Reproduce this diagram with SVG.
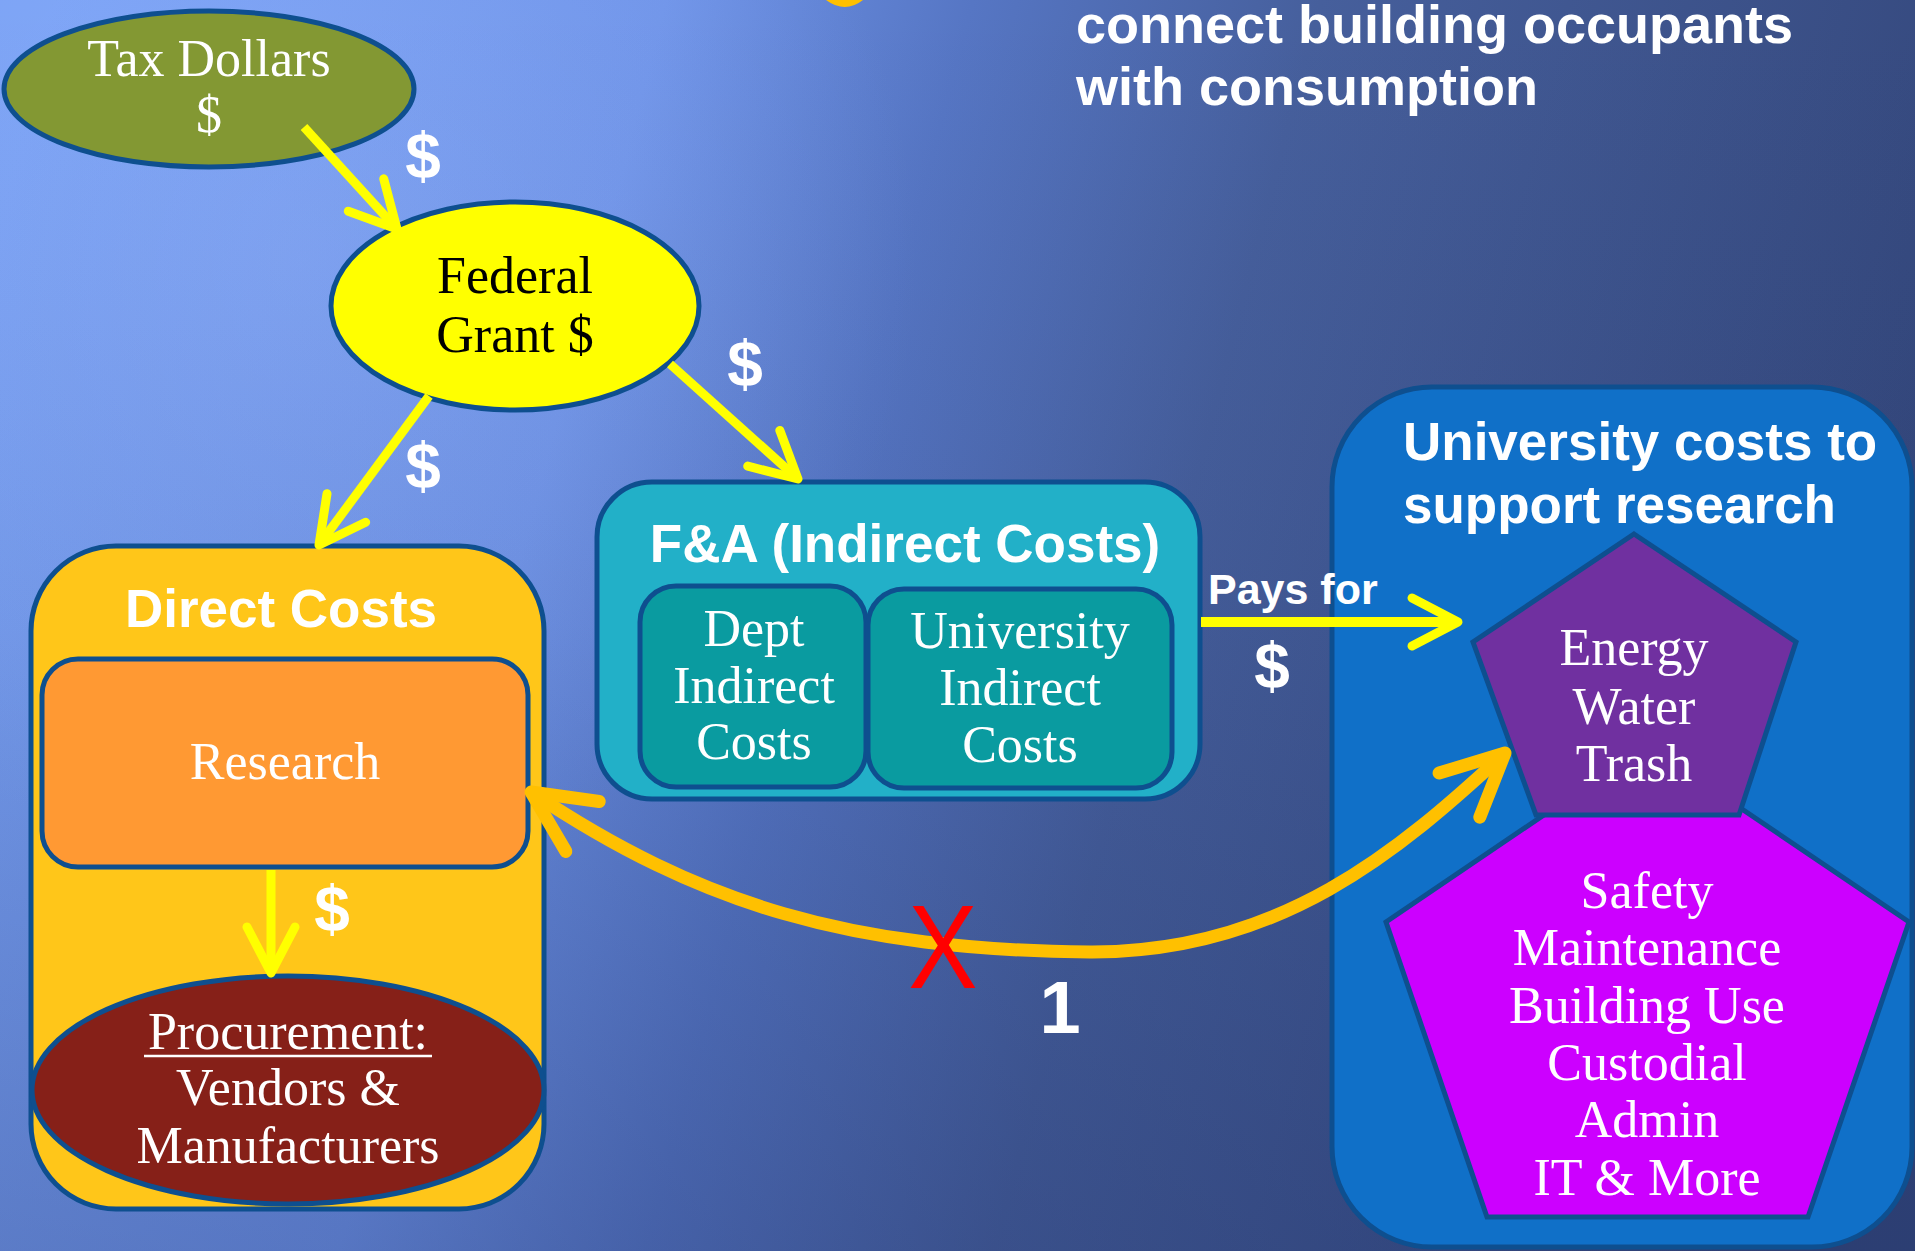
<svg xmlns="http://www.w3.org/2000/svg" width="1915" height="1251" viewBox="0 0 1915 1251">
<defs>
<linearGradient id="bg" gradientUnits="userSpaceOnUse" x1="0" y1="200" x2="1915" y2="700">
<stop offset="0" stop-color="#7aa2f5"/>
<stop offset="0.3" stop-color="#6e93e8"/>
<stop offset="0.45" stop-color="#5676c4"/>
<stop offset="0.62" stop-color="#465f9c"/>
<stop offset="1" stop-color="#33467a"/>
</linearGradient>
<linearGradient id="shade" x1="0" y1="0" x2="0" y2="1">
<stop offset="0" stop-color="#1a2a60" stop-opacity="0"/>
<stop offset="0.5" stop-color="#1a2a60" stop-opacity="0.08"/>
<stop offset="1" stop-color="#1a2a60" stop-opacity="0.28"/>
</linearGradient>
<radialGradient id="glow" gradientUnits="userSpaceOnUse" cx="300" cy="260" r="620">
<stop offset="0" stop-color="#9ab8ff" stop-opacity="0.35"/>
<stop offset="1" stop-color="#9ab8ff" stop-opacity="0"/>
</radialGradient>
<marker id="ya" markerUnits="userSpaceOnUse" viewBox="-60 -40 70 80" refX="0" refY="0" markerWidth="70" markerHeight="80" orient="auto" overflow="visible">
<path d="M -46 -24 L 0 0 L -46 24" fill="none" stroke="#ffff00" stroke-width="9" stroke-linecap="round" stroke-linejoin="round"/>
</marker>
<marker id="oa" markerUnits="userSpaceOnUse" viewBox="-80 -50 90 100" refX="0" refY="0" markerWidth="90" markerHeight="100" orient="auto-start-reverse" overflow="visible">
<path d="M -62 -30 L 0 0 L -62 30" fill="none" stroke="#ffc000" stroke-width="13" stroke-linecap="round" stroke-linejoin="round"/>
</marker>
<style>
.nd{stroke:#0e4f8f;stroke-width:5}
.ser{font-family:"Liberation Serif","Times New Roman",serif;font-size:52px;fill:#ffffff;text-anchor:middle}
.hd{font-family:"Liberation Sans",Arial,sans-serif;font-weight:bold;fill:#ffffff;font-size:53px}
.dol{font-family:"Liberation Sans",Arial,sans-serif;font-weight:bold;fill:#ffffff;font-size:64px;text-anchor:middle}
.ya{fill:none;stroke:#ffff00;stroke-width:9;marker-end:url(#ya)}
</style>
</defs>

<rect x="0" y="0" width="1915" height="1251" fill="url(#bg)"/>
<rect x="0" y="0" width="1915" height="1251" fill="url(#glow)"/>
<rect x="0" y="0" width="1915" height="1251" fill="url(#shade)"/>
<path d="M 826 0 Q 845 14 863 0 Z" fill="#ffc000"/>

<text class="hd" x="1076" y="43" style="font-size:54px">connect building occupants</text>
<text class="hd" x="1076" y="105" style="font-size:54px">with consumption</text>

<g id="node-university">
<rect class="nd" x="1332" y="387" width="580" height="860" rx="100" fill="#1070c8"/>
<text class="hd" x="1403" y="460">University costs to</text>
<text class="hd" x="1403" y="523">support research</text>
</g>

<g id="node-tax">
<ellipse class="nd" cx="209" cy="89" rx="205" ry="78" fill="#839833"/>
<text class="ser" x="209" y="76">Tax Dollars</text>
<text class="ser" x="209" y="132">$</text>
</g>

<g id="node-federal">
<ellipse class="nd" cx="515" cy="306" rx="184" ry="104" fill="#ffff00"/>
<text class="ser" x="515" y="293" style="fill:#000000">Federal</text>
<text class="ser" x="515" y="352" style="fill:#000000">Grant $</text>
</g>

<g id="node-direct">
<rect class="nd" x="31" y="546" width="513" height="663" rx="85" fill="#ffc619"/>
<text class="hd" x="281" y="627" text-anchor="middle">Direct Costs</text>
</g>

<g id="node-research">
<rect class="nd" x="42" y="659" width="486" height="208" rx="36" fill="#ff9933"/>
<text class="ser" x="285" y="779">Research</text>
</g>

<g id="node-procurement">
<ellipse class="nd" cx="288" cy="1090" rx="256" ry="114" fill="#862018"/>
<text class="ser" x="288" y="1049">Procurement:</text>
<line x1="144" y1="1056" x2="432" y2="1056" stroke="#ffffff" stroke-width="2.5"/>
<text class="ser" x="288" y="1105">Vendors &amp;</text>
<text class="ser" x="288" y="1163">Manufacturers</text>
</g>

<g id="node-fa">
<rect class="nd" x="597" y="482" width="603" height="317" rx="55" fill="#22b0c8"/>
<text class="hd" x="905" y="562" text-anchor="middle">F&amp;A (Indirect Costs)</text>
</g>

<g id="node-dept">
<rect class="nd" x="640" y="586" width="226" height="201" rx="36" fill="#0a9ba0"/>
<text class="ser" x="754" y="646">Dept</text>
<text class="ser" x="754" y="703">Indirect</text>
<text class="ser" x="754" y="759">Costs</text>
</g>

<g id="node-univ-indirect">
<rect class="nd" x="868" y="589" width="304" height="199" rx="36" fill="#0a9ba0"/>
<text class="ser" x="1020" y="648">University</text>
<text class="ser" x="1020" y="705">Indirect</text>
<text class="ser" x="1020" y="762">Costs</text>
</g>

<g id="node-safety">
<polygon class="nd" points="1647,745 1909,922 1808,1217 1487,1217 1386,922" fill="#cc00ff"/>
<text class="ser" x="1647" y="908">Safety</text>
<text class="ser" x="1647" y="965">Maintenance</text>
<text class="ser" x="1647" y="1023">Building Use</text>
<text class="ser" x="1647" y="1080">Custodial</text>
<text class="ser" x="1647" y="1137">Admin</text>
<text class="ser" x="1647" y="1195">IT &amp; More</text>
</g>

<g id="node-energy">
<polygon class="nd" points="1634,534 1796,642 1739,815 1536,815 1473,642" fill="#7030a0"/>
<text class="ser" x="1634" y="665">Energy</text>
<text class="ser" x="1634" y="724">Water</text>
<text class="ser" x="1634" y="781">Trash</text>
</g>

<g id="connectors">
<path class="ya" d="M 304 127 L 397 229"/>
<path class="ya" d="M 429 396 L 319 545"/>
<path class="ya" d="M 670 364 L 798 479"/>
<path class="ya" d="M 1201 622 L 1458 622" style="stroke-width:10"/>
<path class="ya" d="M 271 870 L 271 973"/>
<path d="M 531 792 C 700 905, 850 950, 1090 952 C 1280 953, 1400 850, 1505 753" fill="none" stroke="#ffc000" stroke-width="13" marker-start="url(#oa)" marker-end="url(#oa)"/>
<text class="dol" x="423" y="178">$</text>
<text class="dol" x="423" y="488">$</text>
<text class="dol" x="745" y="386">$</text>
<text class="dol" x="332" y="931">$</text>
<text class="dol" x="1272" y="688">$</text>
<text x="1208" y="604" font-family="Liberation Sans, Arial, sans-serif" font-weight="bold" font-size="43" fill="#ffffff">Pays for</text>
<text x="0" y="0" font-family="Liberation Sans, Arial, sans-serif" font-size="118" fill="#ff0000" text-anchor="middle" transform="translate(943,988) scale(0.88,1)">X</text>
<text x="1060" y="1033" font-family="Liberation Sans, Arial, sans-serif" font-weight="bold" font-size="74" fill="#ffffff" text-anchor="middle">1</text>
</g>
</svg>
